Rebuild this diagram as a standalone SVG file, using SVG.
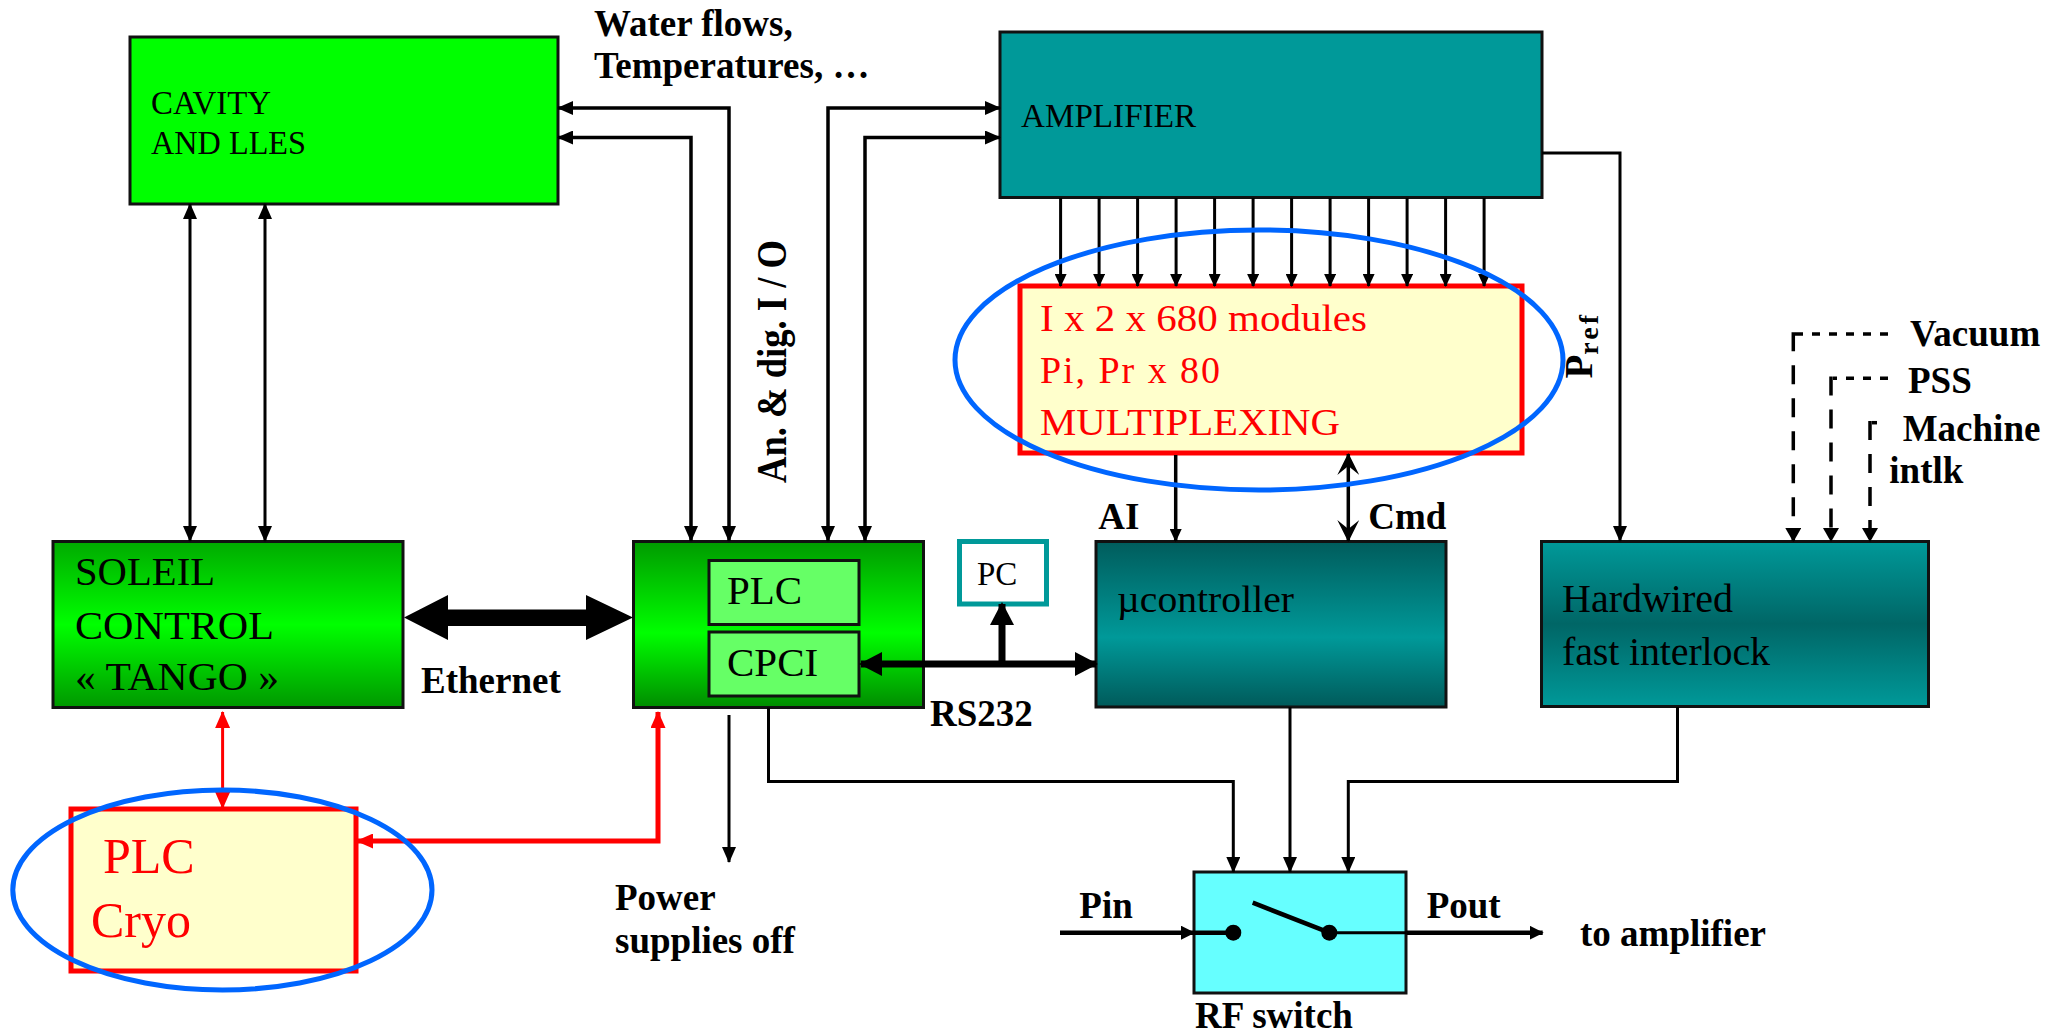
<svg xmlns="http://www.w3.org/2000/svg" width="2063" height="1036" viewBox="0 0 2063 1036">
<style>
text { font-family: "Liberation Serif", "Times New Roman", serif; fill: #000; }
.lb { font-weight: bold; font-size: 37px; }
.box { stroke: #111; stroke-width: 3; }
.ylw { fill: #FFFFCC; stroke: #FF0000; stroke-width: 5; }
.red { fill: #FF0000; }
.c { fill: none; stroke: #000; stroke-width: 3; }
.ct { fill: none; stroke: #000; stroke-width: 3.5; }
.cr { fill: none; stroke: #FF0000; stroke-width: 3; }
.crt { fill: none; stroke: #FF0000; stroke-width: 5; }
.dh { fill: none; stroke: #000; stroke-width: 3.5; stroke-dasharray: 8 9; }
.dv { fill: none; stroke: #000; stroke-width: 3.5; stroke-dasharray: 19 14; }
.oval { fill: none; stroke: #0066FF; stroke-width: 5; }
</style>
<defs>
<marker id="a" markerUnits="userSpaceOnUse" viewBox="0 0 16 14" markerWidth="16" markerHeight="14" refX="15" refY="7" orient="auto-start-reverse"><path d="M0,0 L16,7 L0,14 z" fill="#000"/></marker>
<marker id="s" markerUnits="userSpaceOnUse" viewBox="0 0 13 12" markerWidth="13" markerHeight="12" refX="12" refY="6" orient="auto-start-reverse"><path d="M0,0 L13,6 L0,12 z" fill="#000"/></marker>
<marker id="r" markerUnits="userSpaceOnUse" viewBox="0 0 17 15" markerWidth="17" markerHeight="15" refX="16" refY="7.5" orient="auto-start-reverse"><path d="M0,0 L17,7.5 L0,15 z" fill="#FF0000"/></marker>
<marker id="B" markerUnits="userSpaceOnUse" viewBox="0 0 23 24" markerWidth="23" markerHeight="24" refX="21" refY="12" orient="auto-start-reverse"><path d="M0,0 L23,12 L0,24 z" fill="#000"/></marker>
<marker id="d" markerUnits="userSpaceOnUse" viewBox="0 0 14 16" markerWidth="14" markerHeight="16" refX="13" refY="8" orient="auto-start-reverse"><path d="M0,0 L14,8 L0,16 z" fill="#000"/></marker>
<marker id="v" markerUnits="userSpaceOnUse" viewBox="0 0 22 22" markerWidth="22" markerHeight="22" refX="21" refY="11" orient="auto-start-reverse"><path d="M22,11 L0,0 L9,11 L0,22 z" fill="#000"/></marker>
<marker id="p" markerUnits="userSpaceOnUse" viewBox="0 0 14 14" markerWidth="14" markerHeight="14" refX="13" refY="7" orient="auto"><path d="M0,0 L14,7 L0,14 z" fill="#000"/></marker>
<linearGradient id="gS" x1="0" y1="0" x2="0" y2="1"><stop offset="0" stop-color="#00AA00"/><stop offset="0.5" stop-color="#00FF00"/><stop offset="1" stop-color="#009800"/></linearGradient>
<linearGradient id="gP" x1="0" y1="0" x2="0" y2="1"><stop offset="0" stop-color="#009A00"/><stop offset="0.55" stop-color="#00FF00"/><stop offset="1" stop-color="#008C00"/></linearGradient>
<linearGradient id="gU" x1="0" y1="0" x2="0" y2="1"><stop offset="0" stop-color="#005C5C"/><stop offset="0.58" stop-color="#009999"/><stop offset="1" stop-color="#005A5A"/></linearGradient>
<linearGradient id="gH" x1="0" y1="0" x2="0" y2="1"><stop offset="0" stop-color="#009999"/><stop offset="0.5" stop-color="#006666"/><stop offset="1" stop-color="#009999"/></linearGradient>
</defs>

<g id="cavity">
  <rect class="box" x="130" y="37" width="428" height="167" fill="#00FF00"/>
  <text x="151" y="114" font-size="33" textLength="120" lengthAdjust="spacingAndGlyphs">CAVITY</text>
  <text x="151" y="154" font-size="33" textLength="155" lengthAdjust="spacingAndGlyphs">AND LLES</text>
</g>

<g id="amplifier">
  <rect class="box" x="1000" y="32" width="542" height="165.5" fill="#009999"/>
  <text x="1021" y="127" font-size="33" textLength="175" lengthAdjust="spacingAndGlyphs">AMPLIFIER</text>
</g>

<g id="multiplexing">
  <rect class="ylw" x="1020" y="286" width="502" height="167"/>
  <text class="red" x="1040" y="331" font-size="38" textLength="327" lengthAdjust="spacingAndGlyphs">I x 2 x 680 modules</text>
  <text class="red" x="1040" y="383" font-size="38" textLength="180" lengthAdjust="spacing">Pi, Pr x 80</text>
  <text class="red" x="1040" y="435" font-size="38" textLength="300" lengthAdjust="spacingAndGlyphs">MULTIPLEXING</text>
</g>

<g id="soleil">
  <rect class="box" x="53" y="541.5" width="350" height="166" fill="url(#gS)"/>
  <text x="75" y="585" font-size="41" textLength="140" lengthAdjust="spacingAndGlyphs">SOLEIL</text>
  <text x="75" y="639" font-size="41" textLength="199" lengthAdjust="spacingAndGlyphs">CONTROL</text>
  <text x="75" y="690" font-size="41" textLength="204" lengthAdjust="spacingAndGlyphs">« TANGO »</text>
</g>

<g id="plc">
  <rect class="box" x="633.5" y="541.5" width="290" height="166" fill="url(#gP)"/>
  <rect class="box" x="709" y="560.5" width="150" height="64" fill="#66FF66"/>
  <rect class="box" x="709" y="632" width="150" height="64" fill="#66FF66"/>
  <text x="727" y="604" font-size="41">PLC</text>
  <text x="727" y="676" font-size="41">CPCI</text>
</g>

<g id="pc">
  <rect x="959.5" y="541.5" width="87" height="62.5" fill="#FFFFFF" stroke="#009999" stroke-width="5"/>
  <text x="977" y="585" font-size="33">PC</text>
</g>

<g id="ucontroller">
  <rect class="box" x="1096" y="541.5" width="350" height="165.5" fill="url(#gU)"/>
  <text x="1117" y="612" font-size="37" textLength="177" lengthAdjust="spacingAndGlyphs">µcontroller</text>
</g>

<g id="hardwired">
  <rect class="box" x="1541.5" y="541.5" width="387" height="165" fill="url(#gH)"/>
  <text x="1562" y="611.5" font-size="40">Hardwired</text>
  <text x="1562" y="665" font-size="40" textLength="208" lengthAdjust="spacing">fast interlock</text>
</g>

<g id="plc-cryo">
  <rect class="ylw" x="71" y="809" width="285" height="162"/>
  <text class="red" x="103" y="872.6" font-size="50">PLC</text>
  <text class="red" x="91" y="937" font-size="50">Cryo</text>
</g>

<g id="rf-switch">
  <rect class="box" x="1194" y="872" width="212" height="121" fill="#66FFFF"/>
  <line x1="1194" y1="932.7" x2="1233.3" y2="932.7" stroke="#000" stroke-width="4.5"/>
  <line x1="1329.3" y1="932.7" x2="1406.5" y2="932.7" stroke="#000" stroke-width="3"/>
  <line x1="1252.7" y1="902.7" x2="1329.3" y2="932.7" stroke="#000" stroke-width="4.5"/>
  <circle cx="1233.3" cy="932.7" r="8" fill="#000"/>
  <circle cx="1329.3" cy="932.7" r="8" fill="#000"/>
  <text class="lb" x="1195" y="1028">RF switch</text>
</g>

<g id="connectors">
  <line class="c" x1="190" y1="204" x2="190" y2="541" marker-start="url(#a)" marker-end="url(#a)"/>
  <line class="c" x1="265" y1="204" x2="265" y2="541" marker-start="url(#a)" marker-end="url(#a)"/>
  <path class="ct" d="M558,108 H729 V541" marker-start="url(#a)" marker-end="url(#a)"/>
  <path class="ct" d="M558,137.5 H691 V541" marker-start="url(#a)" marker-end="url(#a)"/>
  <path class="ct" d="M828,541 V108 H1000" marker-start="url(#a)" marker-end="url(#a)"/>
  <path class="ct" d="M865,541 V137.5 H1000" marker-start="url(#a)" marker-end="url(#a)"/>
  <g class="c">
    <line x1="1060.6" y1="198" x2="1060.6" y2="286" marker-end="url(#s)"/>
    <line x1="1099.1" y1="198" x2="1099.1" y2="286" marker-end="url(#s)"/>
    <line x1="1137.6" y1="198" x2="1137.6" y2="286" marker-end="url(#s)"/>
    <line x1="1176.1" y1="198" x2="1176.1" y2="286" marker-end="url(#s)"/>
    <line x1="1214.6" y1="198" x2="1214.6" y2="286" marker-end="url(#s)"/>
    <line x1="1253.1" y1="198" x2="1253.1" y2="286" marker-end="url(#s)"/>
    <line x1="1291.6" y1="198" x2="1291.6" y2="286" marker-end="url(#s)"/>
    <line x1="1330.1" y1="198" x2="1330.1" y2="286" marker-end="url(#s)"/>
    <line x1="1368.6" y1="198" x2="1368.6" y2="286" marker-end="url(#s)"/>
    <line x1="1407.1" y1="198" x2="1407.1" y2="286" marker-end="url(#s)"/>
    <line x1="1445.6" y1="198" x2="1445.6" y2="286" marker-end="url(#s)"/>
    <line x1="1484.1" y1="198" x2="1484.1" y2="286" marker-end="url(#s)"/>
  </g>
  <path class="c" d="M1542,153 H1620 V541" marker-end="url(#a)"/>
  <line class="ct" x1="1175.7" y1="455" x2="1175.7" y2="541" marker-end="url(#s)"/>
  <line class="ct" x1="1348.3" y1="454" x2="1348.3" y2="541" marker-start="url(#v)" marker-end="url(#v)"/>
  <path class="dh" d="M1888,334 H1795"/>
  <path class="dv" d="M1793.3,332.3 V541" marker-end="url(#d)"/>
  <path class="dh" d="M1888,378.3 H1833"/>
  <path class="dv" d="M1831,376.6 V541" marker-end="url(#d)"/>
  <path class="dh" d="M1877,422.7 H1872"/>
  <path class="dv" d="M1870,421 V541" marker-end="url(#d)"/>
  <polygon points="404,617.5 448,595 448,609.5 586,609.5 586,595 633,617.5 586,640 586,626 448,626 448,640" fill="#000"/>
  <line x1="861" y1="664" x2="1096" y2="664" stroke="#000" stroke-width="7" marker-start="url(#B)" marker-end="url(#B)"/>
  <line x1="1002" y1="664" x2="1002" y2="604" stroke="#000" stroke-width="7" marker-end="url(#B)"/>
  <line class="cr" x1="222.6" y1="712" x2="222.6" y2="808" marker-start="url(#r)" marker-end="url(#r)"/>
  <path class="crt" d="M658,712 V841 H357" marker-start="url(#r)" marker-end="url(#r)"/>
  <line class="c" x1="729" y1="715" x2="729" y2="862" marker-end="url(#a)"/>
  <path class="c" d="M768.5,707.5 V781.4 H1233.3 V872" marker-end="url(#a)"/>
  <path class="c" d="M1290,707 V872" marker-end="url(#a)"/>
  <path class="c" d="M1677.5,707 V781.4 H1348.3 V872" marker-end="url(#a)"/>
  <line x1="1060" y1="932.7" x2="1194" y2="932.7" stroke="#000" stroke-width="4.5" marker-end="url(#p)"/>
  <line x1="1406.5" y1="932.7" x2="1542.7" y2="932.7" stroke="#000" stroke-width="4.5" marker-end="url(#p)"/>
</g>

<g id="highlights">
  <ellipse class="oval" cx="1259" cy="360" rx="304" ry="130"/>
  <ellipse class="oval" cx="222.4" cy="890" rx="209.6" ry="100"/>
</g>

<g id="labels">
  <text class="lb" x="594" y="36">Water flows,</text>
  <text class="lb" x="594" y="78">Temperatures, …</text>
  <text class="lb" transform="translate(786,483) rotate(-90)" style="font-size:42px" textLength="243" lengthAdjust="spacingAndGlyphs">An. &amp; dig. I / O</text>
  <text class="lb" transform="translate(1591.5,378.5) rotate(-90)" style="font-size:39px">P<tspan dy="6" style="font-size:28px" letter-spacing="3">ref</tspan></text>
  <text class="lb" x="1910" y="346">Vacuum</text>
  <text class="lb" x="1908" y="392.7">PSS</text>
  <text class="lb" x="1902.7" y="441">Machine</text>
  <text class="lb" x="1889.3" y="483.3">intlk</text>
  <text class="lb" x="1098.3" y="529.3">AI</text>
  <text class="lb" x="1368.3" y="529.3">Cmd</text>
  <text class="lb" x="421" y="693">Ethernet</text>
  <text class="lb" x="930" y="726">RS232</text>
  <text class="lb" x="615" y="910">Power</text>
  <text class="lb" x="615" y="953">supplies off</text>
  <text class="lb" x="1079.3" y="918.3">Pin</text>
  <text class="lb" x="1426.7" y="918.3">Pout</text>
  <text class="lb" x="1580" y="946">to amplifier</text>
</g>
</svg>
